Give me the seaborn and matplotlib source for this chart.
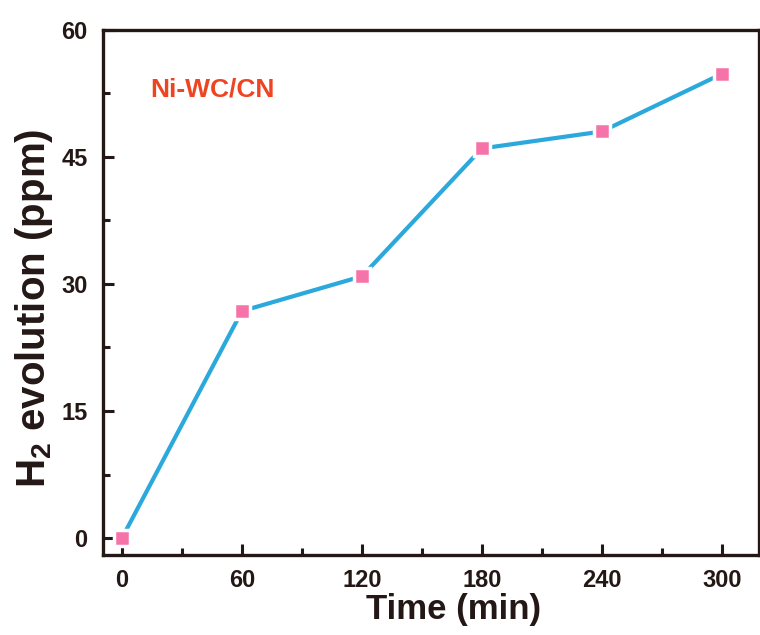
import matplotlib
matplotlib.use("Agg")
import matplotlib.pyplot as plt
import seaborn as sns
import pandas as pd
from matplotlib.ticker import MultipleLocator

# Values
time_min = [0, 60, 120, 180, 240, 300]
h2_ppm = [0.0, 26.8, 30.9, 46.0, 48.0, 54.8]
sample_label = "Ni-WC/CN"

df = pd.DataFrame({"time": time_min, "h2": h2_ppm})

sns.set_style("ticks")
plt.rcParams["font.family"] = ["Liberation Sans", "DejaVu Sans"]
plt.rcParams["font.weight"] = "bold"
plt.rcParams["mathtext.fontset"] = "custom"
plt.rcParams["mathtext.rm"] = "Liberation Sans:bold"
plt.rcParams["mathtext.default"] = "rm"

fig = plt.figure(figsize=(7.6, 6.35), dpi=100)
ax = fig.add_axes([0.1355, 0.126, 0.863, 0.827])

sns.lineplot(data=df, x="time", y="h2", ax=ax, color="#2BA8DC", linewidth=3,
             marker="s", markersize=12, markerfacecolor="#F573A8",
             markeredgecolor="white", markeredgewidth=2.5)

ax.set_xlim(-9.5, 318.5)
ax.set_ylim(-2, 60)
ax.xaxis.set_major_locator(MultipleLocator(60))
ax.xaxis.set_minor_locator(MultipleLocator(30))
ax.yaxis.set_major_locator(MultipleLocator(15))
ax.yaxis.set_minor_locator(MultipleLocator(7.5))
ax.tick_params(which="major", direction="in", length=8, width=2.2,
               labelsize=17, color="#231815")
ax.tick_params(axis="y", pad=11)
ax.tick_params(axis="x", pad=10)
ax.tick_params(which="minor", direction="in", length=5, width=2.2,
               color="#231815")
for lbl in ax.get_xticklabels() + ax.get_yticklabels():
    lbl.set_fontweight("bold")
    lbl.set_color("#231815")
for s in ax.spines.values():
    s.set_linewidth(2.4)
    s.set_color("#231815")

ax.set_xlabel("Time (min)", fontsize=25, fontweight="bold", color="#231815")
ax.set_ylabel("H$_2$ evolution (ppm)", fontsize=29, fontweight="bold",
              color="#231815")
ax.xaxis.set_label_coords(0.534, -0.072)
ax.yaxis.set_label_coords(-0.073, 0.469)

ax.text(0.072, 0.886, sample_label, transform=ax.transAxes, color="#EE4422",
        fontsize=19, fontweight="bold", va="center", ha="left")

fig.savefig("out.png", dpi=100)
